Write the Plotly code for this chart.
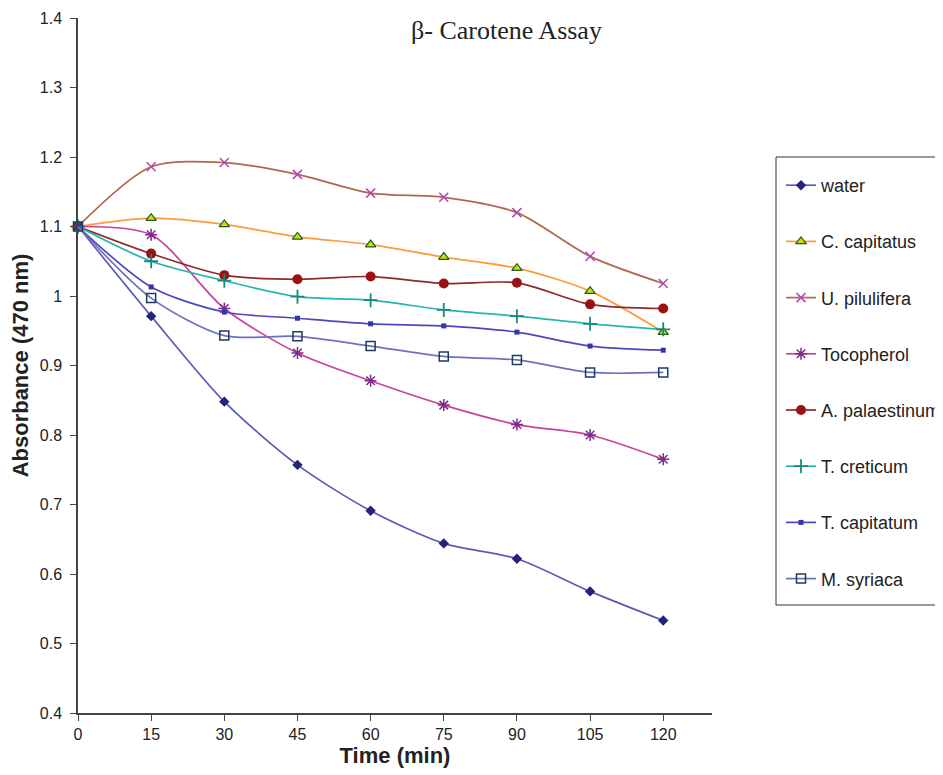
import plotly.graph_objects as go

time_min = [0, 15, 30, 45, 60, 75, 90, 105, 120]
x_tick_labels = ["0", "15", "30", "45", "60", "75", "90", "105", "120"]
y_tick_vals = [0.4, 0.5, 0.6, 0.7, 0.8, 0.9, 1.0, 1.1, 1.2, 1.3, 1.4]
y_tick_labels = ["0.4", "0.5", "0.6", "0.7", "0.8", "0.9", "1", "1.1", "1.2", "1.3", "1.4"]

water = [1.1, 0.971, 0.848, 0.757, 0.691, 0.644, 0.622, 0.575, 0.533]
c_capitatus = [1.1, 1.112, 1.103, 1.085, 1.074, 1.056, 1.040, 1.007, 0.948]
u_pilulifera = [1.1, 1.186, 1.192, 1.175, 1.148, 1.142, 1.120, 1.057, 1.018]
tocopherol = [1.1, 1.088, 0.982, 0.918, 0.878, 0.843, 0.815, 0.800, 0.765]
a_palaestinum = [1.1, 1.061, 1.030, 1.024, 1.028, 1.018, 1.019, 0.988, 0.982]
t_creticum = [1.1, 1.050, 1.022, 0.999, 0.994, 0.980, 0.971, 0.960, 0.952]
t_capitatum = [1.1, 1.013, 0.977, 0.968, 0.960, 0.957, 0.948, 0.928, 0.922]
m_syriaca = [1.1, 0.997, 0.943, 0.942, 0.928, 0.913, 0.908, 0.890, 0.890]

series = [
    ("water", water, "#5B5BB5", dict(symbol="diamond", size=8, color="#23237A")),
    ("C. capitatus", c_capitatus, "#FF9A3C",
     dict(symbol="triangle-up", size=9, color="#CFE000", line=dict(color="#1E5A2A", width=1.2))),
    ("U. pilulifera", u_pilulifera, "#B0674C",
     dict(symbol="x-thin-open", size=9, color="#B347B3", line=dict(color="#B347B3", width=1.5))),
    ("Tocopherol", tocopherol, "#C7449E",
     dict(symbol="asterisk-open", size=10, color="#7E2A8A", line=dict(color="#7E2A8A", width=1.5))),
    ("A. palaestinum", a_palaestinum, "#8E2A2A", dict(symbol="circle", size=10, color="#9B1212")),
    ("T. creticum", t_creticum, "#26B5AE",
     dict(symbol="cross-thin-open", size=10, color="#178A80", line=dict(color="#178A80", width=1.8))),
    ("T. capitatum", t_capitatum, "#4848C2", dict(symbol="square", size=5, color="#3333AA")),
    ("M. syriaca", m_syriaca, "#6F6FC0",
     dict(symbol="square-open", size=9, color="#1E3A5C", line=dict(color="#1E3A5C", width=1.5))),
]

fig = go.Figure()
for i, (name, vals, lc, mk) in enumerate(series):
    fig.add_trace(go.Scatter(
        x=time_min, y=vals, name=name, mode="lines+markers",
        line=dict(color=lc, width=1.7, shape="spline", smoothing=0.8),
        marker=mk, legendgroup=f"g{i}", cliponaxis=False,
    ))

# page body adds an 8px offset; plot area targets screen x 78..712, y 18..713
L, T, B, R = 70, 10, 70, 239
PW, PH = 943 - L - R, 775 - T - B

fig.update_layout(
    width=943, height=775,
    margin=dict(l=L, r=R, t=T, b=B, autoexpand=False),
    plot_bgcolor="white", paper_bgcolor="white",
    font=dict(family="Liberation Sans, Arial, sans-serif", size=16, color="#222"),
    title=dict(text="β- Carotene Assay", x=498.5 / 943, xanchor="center", y=1 - 22 / 775, yanchor="middle",
               font=dict(family="Liberation Serif, Times New Roman, serif", size=26, color="#222")),
    legend=dict(x=(773 - L) / PW, xanchor="left", y=(775 - B - 159) / PH, yanchor="top",
                borderwidth=0, bgcolor="rgba(0,0,0,0)",
                tracegroupgap=29.8, font=dict(size=18, color="#222"),
                itemwidth=30),
    showlegend=True,
    shapes=[dict(type="rect", xref="paper", yref="paper",
                 x0=(768 - L) / PW, x1=(1000 - L) / PW,
                 y0=(775 - B - 597) / PH, y1=(775 - B - 149) / PH,
                 line=dict(color="#333", width=1), fillcolor="rgba(0,0,0,0)", layer="below")],
)
fig.update_xaxes(
    range=[0, 130], tickvals=time_min, ticktext=x_tick_labels, automargin=False,
    showline=True, linecolor="#444", linewidth=1.5, ticks="outside", ticklen=6, tickcolor="#444",
    showgrid=False, zeroline=False, tickfont=dict(size=16),
    title=dict(text="<b>Time (min)</b>", font=dict(size=22), standoff=6),
)
fig.update_yaxes(
    range=[0.4, 1.4], tickvals=y_tick_vals, ticktext=y_tick_labels, automargin=False,
    showline=True, linecolor="#444", linewidth=1.5, ticks="outside", ticklen=6, tickcolor="#444",
    showgrid=False, zeroline=False, tickfont=dict(size=16), ticklabelstandoff=5,
    title=dict(text="<b>Absorbance (470 nm)</b>", font=dict(size=22), standoff=10),
)

fig.write_html("out.html")
